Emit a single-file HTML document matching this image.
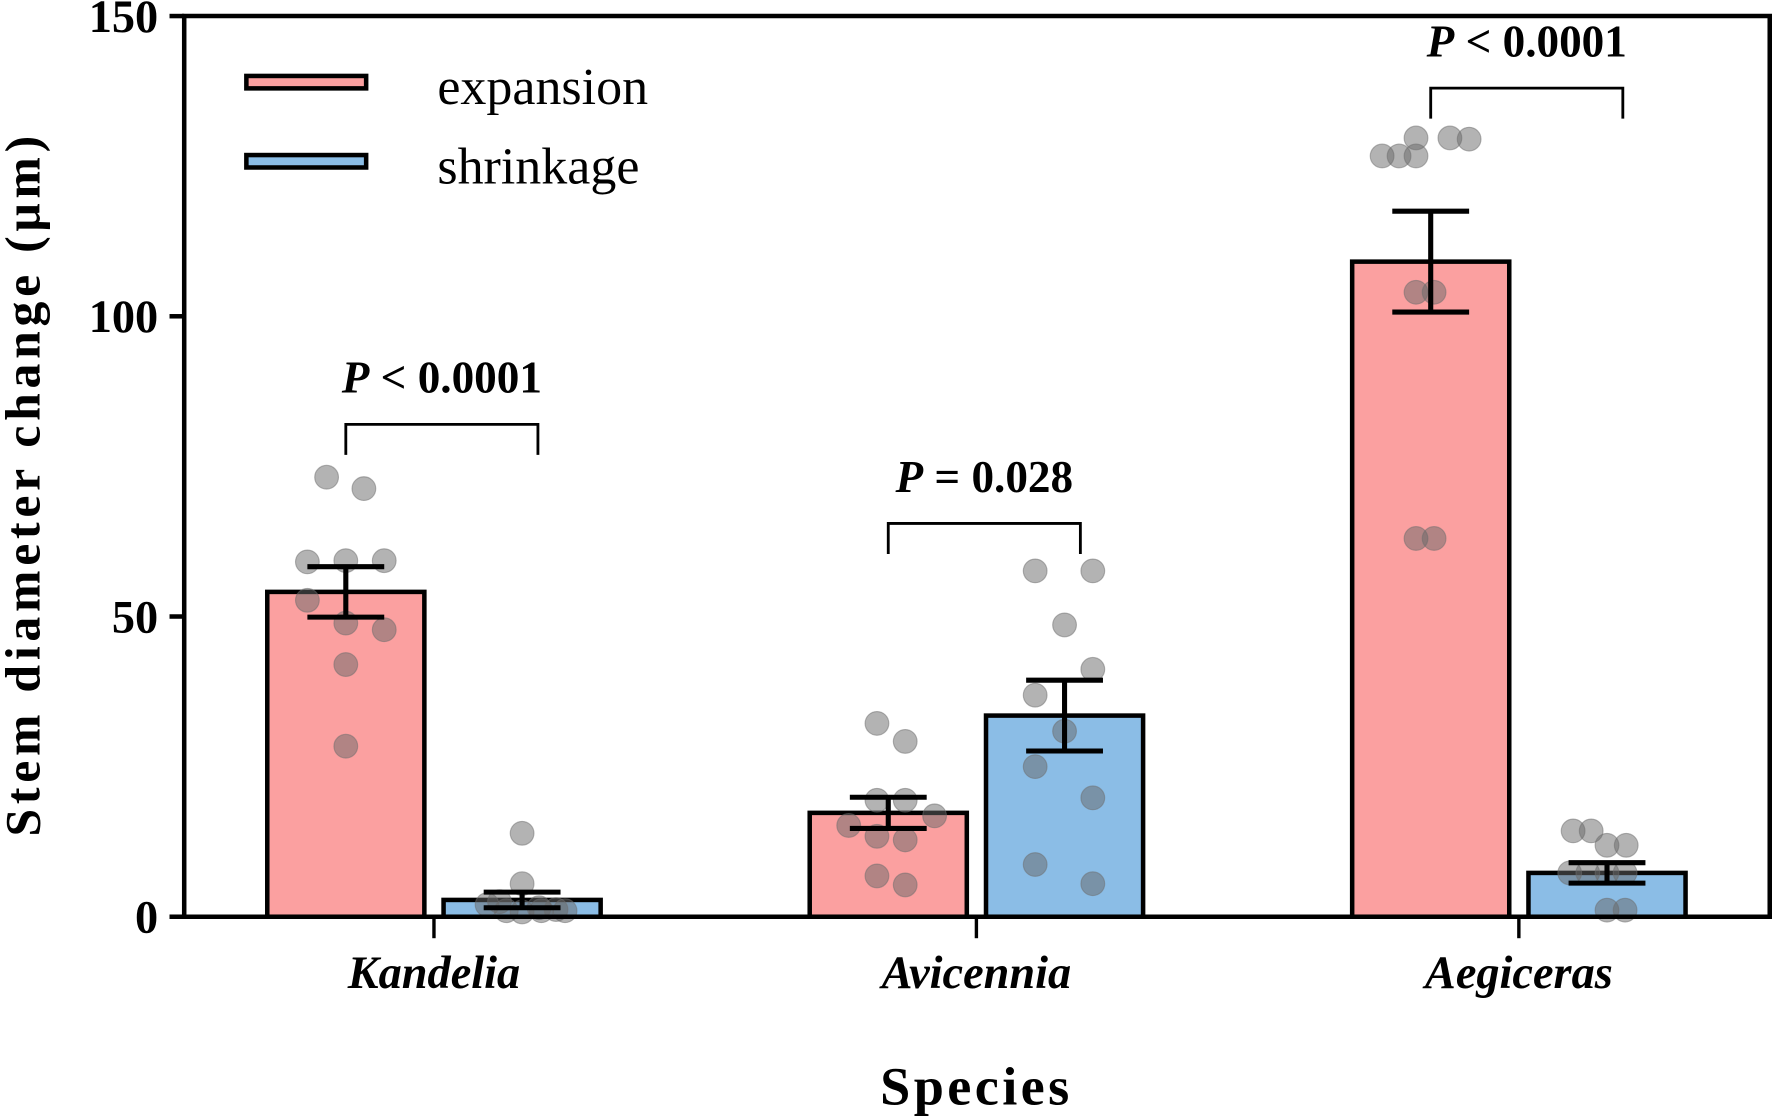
<!DOCTYPE html>
<html><head><meta charset="utf-8">
<style>
html,body{margin:0;padding:0;background:#fff;}
svg{display:block;}
text{font-family:"Liberation Serif","Times New Roman",serif;}
</style></head>
<body>
<svg id="chart" width="1772" height="1117" viewBox="0 0 1568 988" font-family="Liberation Serif, Times New Roman, serif" xmlns="http://www.w3.org/2000/svg">
</svg>
<script>
const categories = ["Kandelia", "Avicennia", "Aegiceras"];
const expansionMeans = [54.1, 17.3, 109.1];
const expansionErr = [4.2, 2.6, 8.4];
const shrinkageMeans = [2.8, 33.5, 7.3];
const shrinkageErr = [1.3, 5.9, 1.7];
const expansionPoints = [
  [73.2, 71.3, 59.1, 59.3, 59.3, 52.7, 48.9, 47.8, 42.0, 28.4],
  [32.2, 29.2, 19.4, 19.4, 16.8, 15.2, 13.4, 12.8, 6.8, 5.3],
  [126.7, 126.7, 129.7, 129.7, 129.5, 126.7, 104.0, 104.0, 63.0, 63.0]
];
const shrinkagePoints = [
  [13.9, 5.5, 2.0, 1.0, 1.0, 1.0, 0.8, 1.5, 2.5, 1.2],
  [57.6, 57.6, 48.6, 41.2, 36.9, 30.9, 25.0, 19.8, 8.7, 5.5],
  [14.3, 14.3, 11.9, 11.9, 7.3, 7.3, 7.3, 7.3, 1.1, 1.1]
];
const pLabels = ["< 0.0001", "= 0.028", "< 0.0001"];
const bracketValues = [82, 65.5, 138];
const yTicks = [0, 50, 100, 150];

const NS = "http://www.w3.org/2000/svg";
const svg = document.getElementById("chart");
const X0 = 163, X1 = 1566, Y0 = 811, Y1 = 14;
const yScale = v => Y0 - (v / 150) * (Y0 - Y1);
const catX = i => 384 + i * 480;
const OFF = 78, BW = 139;
const jit = [[-17,16,-34,0,34,-34,0,34,0,0],[-10,15,-10,15,41,-35,-10,15,-10,15],[-43,-13,-13,17,34,-28,-13,3,-13,3]];
const jit2 = [[0,0,-31,-14,17,38,0,15,-20,30],[-26,25,0,25,-26,0,-26,25,-26,25],[-30,-14,0,17,-33,-17,0,16,0,16]];

function el(tag, attrs, parent){
  const e = document.createElementNS(NS, tag);
  for (const k in attrs) e.setAttribute(k, attrs[k]);
  (parent||svg).appendChild(e);
  return e;
}

const frame = el("path",{d:`M${X0},${Y0} L${X0},${Y1} L${X1},${Y1} L${X1},${Y0}`,fill:"none",stroke:"#000","stroke-width":4});



yTicks.forEach(t=>{
  const y = yScale(t);
  const tk = el("line",{x1:150,x2:X0,y1:y,y2:y,stroke:"#000","stroke-width":4});
  
  
  const lb = el("text",{x:140,y:y+14,"text-anchor":"end","font-size":41,"font-weight":"bold"});
  lb.textContent = t;
  
  
});

function bar(x, v, color, name){
  const r = el("rect",{x:x-BW/2,y:yScale(v),width:BW,height:Y0-yScale(v),fill:color,stroke:"#000","stroke-width":4});
  
  
}
function errbar(x, m, e){
  const g = el("g",{stroke:"#000","stroke-width":4.5});
  
  
  el("line",{x1:x,x2:x,y1:yScale(m+e),y2:yScale(m-e)},g);
  el("line",{x1:x-34,x2:x+34,y1:yScale(m+e),y2:yScale(m+e)},g);
  el("line",{x1:x-34,x2:x+34,y1:yScale(m-e),y2:yScale(m-e)},g);
}
function dots(x, pts, jx, name){
  pts.forEach((v,k)=>{
    const c = el("circle",{cx:x+jx[k],cy:yScale(v),r:10.5,fill:"rgba(103,103,103,0.5)",stroke:"rgba(110,110,110,0.5)","stroke-width":1});
    
    
  });
}

categories.forEach((c,i)=>{
  const cx = catX(i);
  bar(cx-OFF, expansionMeans[i], "#FBA0A0", "bar-expansion-"+c.toLowerCase());
  bar(cx+OFF, shrinkageMeans[i], "#8BBDE6", "bar-shrinkage-"+c.toLowerCase());
  dots(cx-OFF, expansionPoints[i], jit[i], "data-point-expansion");
  dots(cx+OFF, shrinkagePoints[i], jit2[i], "data-point-shrinkage");
  errbar(cx-OFF, expansionMeans[i], expansionErr[i]);
  errbar(cx+OFF, shrinkageMeans[i], shrinkageErr[i]);
  const t = el("line",{x1:cx,x2:cx,y1:Y0,y2:830,stroke:"#000","stroke-width":3});
  
  
  const lb = el("text",{x:cx,y:874,"text-anchor":"middle","font-size":41,"font-weight":"bold","font-style":"italic"});
  lb.textContent = c;
  
  
  const by = yScale(bracketValues[i]);
  const br = el("path",{d:`M${cx-OFF},${by+27} L${cx-OFF},${by} L${cx+OFF+14},${by} L${cx+OFF+14},${by+27}`,fill:"none",stroke:"#000","stroke-width":2.5});
  
  
  const pt = el("text",{x:cx+7,y:by-28,"text-anchor":"middle","font-size":40,"font-weight":"bold"});
  
  
  const ts = el("tspan",{"font-style":"italic"},pt); ts.textContent = "P";
  const ts2 = el("tspan",{},pt); ts2.textContent = " " + pLabels[i];
});

const base = el("line",{x1:150,x2:X1+2,y1:Y0,y2:Y0,stroke:"#000","stroke-width":4});



[["expansion","#FBA0A0",72],["shrinkage","#8BBDE6",142]].forEach(([n,col,y])=>{
  const g = el("g",{});
  
  
  el("rect",{x:218,y:y-5,width:106,height:11,fill:col,stroke:"#000","stroke-width":4},g);
  const t = el("text",{x:387,y:y+20,"font-size":46},g);
  t.textContent = n;
});

const yt = el("text",{x:0,y:0,transform:"translate(35,430) rotate(-90)","text-anchor":"middle","font-size":44,"font-weight":"bold",textLength:620,lengthAdjust:"spacing"});
yt.textContent = "Stem diameter change (μm)";


const xt = el("text",{x:864,y:977,"text-anchor":"middle","font-size":48,"font-weight":"bold","letter-spacing":"3"});
xt.textContent = "Species";


</script>
</body></html>
